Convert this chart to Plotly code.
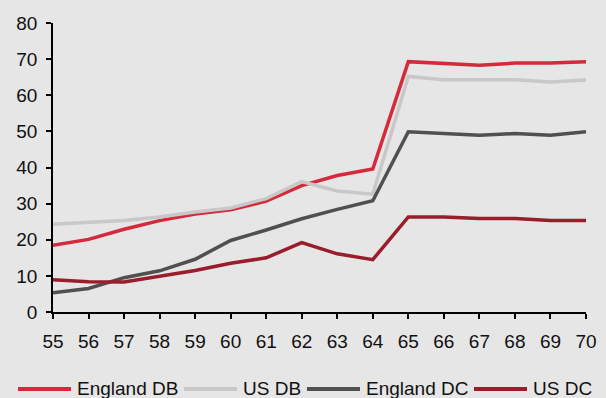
import plotly.graph_objects as go

ages = [55, 56, 57, 58, 59, 60, 61, 62, 63, 64, 65, 66, 67, 68, 69, 70]
england_db = [18.5, 20.1, 22.9, 25.3, 27.1, 28.3, 30.7, 35.0, 37.8, 39.6, 69.3, 68.9, 68.3, 68.9, 68.9, 69.3]
us_db = [24.3, 24.7, 25.3, 26.3, 27.7, 28.8, 31.4, 36.1, 33.5, 32.6, 65.2, 64.3, 64.3, 64.3, 63.7, 64.2]
england_dc = [5.3, 6.5, 9.5, 11.4, 14.6, 19.8, 22.7, 25.8, 28.4, 30.8, 49.9, 49.4, 48.9, 49.4, 48.9, 49.9]
us_dc = [8.9, 8.4, 8.3, 10.0, 11.5, 13.5, 15.0, 19.2, 16.1, 14.5, 26.3, 26.3, 25.9, 25.9, 25.3, 25.3]

series_names = ["England DB", "US DB", "England DC", "US DC"]
series_values = [england_db, us_db, england_dc, us_dc]
series_colors = ["#D52A3B", "#C8C8C8", "#505050", "#9A1D2B"]

W, H = 606, 398
ML, MR, MT, MB = 53, 20, 23, 86
PW, PH = W - ML - MR, H - MT - MB

fig = go.Figure()
for name, vals, col in zip(series_names, series_values, series_colors):
    fig.add_trace(go.Scatter(x=ages, y=vals, name=name, mode="lines",
                             line=dict(color=col, width=3.5), showlegend=False))

font = dict(family="Liberation Sans, Arial, sans-serif", size=19, color="#111111")

# custom legend (long line samples like the reference)
legend_starts = [18, 184, 307, 474]  # pixel x of each legend entry
sample_len = 53
legend_y_px = 389


def px_x(p):
    return (p - ML) / PW


def px_y(p):
    return (H - MB - p) / PH


for name, col, x0 in zip(series_names, series_colors, legend_starts):
    fig.add_shape(type="line", xref="paper", yref="paper",
                  x0=px_x(x0), x1=px_x(x0 + sample_len),
                  y0=px_y(legend_y_px), y1=px_y(legend_y_px),
                  line=dict(color=col, width=4))
    fig.add_annotation(xref="paper", yref="paper",
                       x=px_x(x0 + sample_len + 4), y=px_y(legend_y_px),
                       xanchor="left", yanchor="middle", text=name,
                       showarrow=False, font=font)

fig.update_layout(
    width=W, height=H,
    paper_bgcolor="#E6E6E6", plot_bgcolor="#E6E6E6",
    margin=dict(l=ML, r=MR, t=MT, b=MB, autoexpand=False),
    font=font,
    showlegend=False,
)
fig.update_xaxes(range=[55, 70], tickmode="array", tickvals=ages,
                 ticktext=[str(a) for a in ages], automargin=False,
                 showline=True, linecolor="#000000", linewidth=1.5,
                 ticks="outside", ticklen=5, tickcolor="#000000", tickwidth=1.5,
                 showgrid=False, zeroline=False, ticklabelstandoff=6)
fig.update_yaxes(range=[0, 80], tickmode="linear", tick0=0, dtick=10,
                 automargin=False,
                 showline=True, linecolor="#000000", linewidth=1.5,
                 ticks="outside", ticklen=5, tickcolor="#000000", tickwidth=1.5,
                 showgrid=False, zeroline=False, ticklabelstandoff=5)

fig.write_html("out.html",
               config={"displayModeBar": False},
               post_script="document.body.style.margin='0';document.body.style.padding='0';"
                           "document.documentElement.style.background='#E6E6E6';")
